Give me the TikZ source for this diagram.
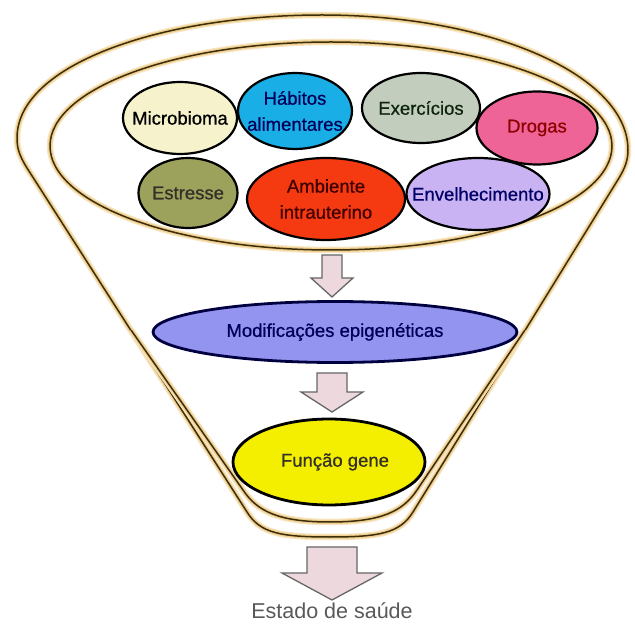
\documentclass[tikz,border=0pt]{standalone}
\usepackage{fontspec}
\setmainfont{Liberation Sans}
\newfontfamily\bubblefont{Liberation Sans}[FakeBold=0.7]
\usetikzlibrary{shapes.geometric}
\definecolor{rimdark}{HTML}{3C2E0C}
\definecolor{rimglow}{HTML}{F0CF8E}
\definecolor{arrowpink}{HTML}{EDD9DD}
\definecolor{microfill}{HTML}{F5F2CC}
\definecolor{habitfill}{HTML}{19AEE6}
\definecolor{exercfill}{HTML}{C3CDBD}
\definecolor{drogfill}{HTML}{EF6496}
\definecolor{stressfill}{HTML}{9CA15C}
\definecolor{ambfill}{HTML}{F53A12}
\definecolor{agefill}{HTML}{C9B3F2}
\definecolor{epifill}{HTML}{9393F0}
\definecolor{genefill}{HTML}{F4EF00}

\begin{document}
\begin{tikzpicture}[x=1pt,y=-1pt,
  rim/.style={draw=rimdark,line width=1.5pt,line join=round,
    preaction={draw=rimglow!55,line width=6.5pt},
    preaction={draw=rimglow,line width=4pt}},
  bubble/.style={ellipse,draw=black,line width=2.2pt,inner xsep=-25pt,inner ysep=-8pt,align=center,
    font=\bubblefont\fontsize{18.5}{26}\selectfont},
  blockarrow/.style={draw=gray!80!black,line width=1.3pt,fill=arrowpink,line join=miter}]
  \useasboundingbox (0,0) rectangle (635,628);
  \fill[white] (0,0) rectangle (635,628);

  % funnel
  \draw[rim] (247,512) -- (27,168) .. controls (19,155) and (17,148) .. (17,138)
    .. controls (17,65) and (160,15) .. (322,15)
    .. controls (490,15) and (628,75) .. (628,150)
    .. controls (628,160) and (625,168) .. (619,178) -- (413,512)
    .. controls (400,533) and (380,537) .. (330,537)
    .. controls (280,537) and (260,533) .. (247,512) -- cycle;
  \draw[rim] (131,330) -- (243,490) .. controls (257,511) and (278,522) .. (330,522)
    .. controls (382,522) and (403,511) .. (417,490) -- (525,330);
  \draw[rim] (331,146) ellipse[x radius=281,y radius=104];

  % factors
  \node[bubble,fill=microfill,text=black,minimum width=114pt,minimum height=72pt] (micro) at (180,118) {Microbioma};
  \node[bubble,fill=habitfill,text=blue!35!black,minimum width=114pt,minimum height=76pt] (habitos) at (295,111) {Hábitos\\alimentares};
  \node[bubble,fill=exercfill,text=green!10!black!95,minimum width=118pt,minimum height=70pt] (exerc) at (421,108) {Exercícios};
  \node[bubble,fill=drogfill,text=red!55!black,minimum width=121pt,minimum height=73pt] (drogas) at (537,128) {Drogas};
  \node[bubble,fill=stressfill,text=black!85!olive,minimum width=99pt,minimum height=70pt] (estresse) at (188,193) {Estresse};
  \node[bubble,fill=ambfill,text=red!25!black,minimum width=158pt,minimum height=82pt] (ambiente) at (326,199) {Ambiente\\intrauterino};
  \node[bubble,fill=agefill,text=blue!40!black,minimum width=143pt,minimum height=72pt] (envelh) at (478,194) {Envelhecimento};

  \node[bubble,fill=epifill,draw=blue!25!black,line width=2.8pt,text=blue!35!black,minimum width=364pt,minimum height=61pt] (epig) at (335,332) {Modificações epigenéticas};
  \node[bubble,fill=genefill,line width=2.8pt,text=black!85!olive,minimum width=192pt,minimum height=86pt] (gene) at (329,462) {\hspace*{12pt}Função gene};

  \node[font=\fontsize{21.5}{22}\selectfont,text=black!65] (saude) at (332,611) {Estado de saúde};

  % arrows
  \coordinate (a1) at (332,255);
  \coordinate (a2) at (332,373);
  \coordinate (a3) at (332,547);
  \draw[blockarrow,shift={(a1)}] (-10,0) -- (10,0) -- (10,23) -- (21,23) -- (0,42) -- (-21,23) -- (-10,23) -- cycle;
  \draw[blockarrow,shift={(a2)}] (-15,0) -- (15,0) -- (15,19) -- (31,19) -- (0,39) -- (-31,19) -- (-15,19) -- cycle;
  \draw[blockarrow,shift={(a3)}] (-25,0) -- (25,0) -- (25,26) -- (50,26) -- (0,53) -- (-50,26) -- (-25,26) -- cycle;
\end{tikzpicture}
\end{document}
